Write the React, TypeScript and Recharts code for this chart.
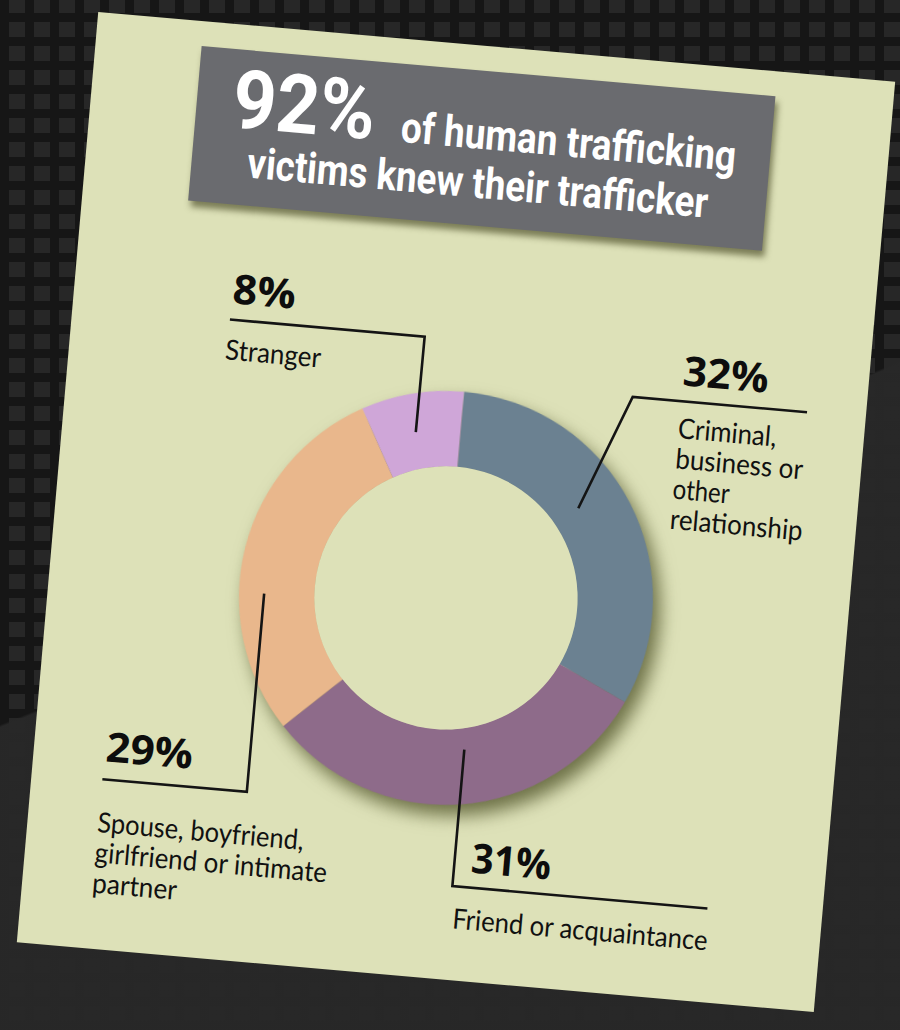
import React from 'react';
import { PieChart, Pie, Cell } from 'recharts';

// slices, clockwise from 12 o'clock
const categories = ['Criminal, business or other relationship', 'Friend or acquaintance', 'Spouse, boyfriend, girlfriend or intimate partner', 'Stranger'];
const shares = [32, 31, 29, 8];
const sliceColors = ['#6b8191', '#8e6b8a', '#e9b78c', '#cfa6d8'];

const labelLines = [
  ['Criminal,', 'business or', 'other', 'relationship'],
  ['Friend or acquaintance'],
  ['Spouse, boyfriend,', 'girlfriend or intimate', 'partner'],
  ['Stranger'],
];

const headlineRest = ['of human trafficking', 'victims knew their trafficker'];

const data = categories.map((name, i) => ({ name, value: shares[i] }));
const knewShare = shares.slice(0, 3).reduce((a, b) => a + b, 0);
const hole = [{ name: 'hole', value: 1 }];

// paper is drawn flat, then tilted like the photo
const PAPER_W = 800;
const PAPER_H = 934;
const PAPER_BG = '#dde1b8';
const LINE_H = 30.4;
const CX = 397.5;
const CY = 553.5;

const layout = [
  { pct: [614, 321, 86], text: [614, 374], widths: [99, 128, 57, 133], leader: '741,337 566,337 521.5,452.6' },
  { pct: [445.5, 825, 80], text: [432, 882], widths: [256], leader: '685,840 429,840 429,703' },
  { pct: [72, 746, 87], text: [70, 817], widths: [207, 233, 85], leader: '71,764 216,764 216,565' },
  { pct: [158.5, 278.6, 63], text: [156, 335], widths: [96], leader: '158,295 353.5,295 353,391' },
];

const bg =
  'repeating-linear-gradient(90deg, #161616 0 9px, transparent 9px 25px), ' +
  'repeating-linear-gradient(0deg, #161616 0 9px, transparent 9px 24px), #272727';

export default function App() {
  return (
    <div style={{ position: 'fixed', left: 0, top: 0, width: 900, height: 1030, overflow: 'hidden', background: bg }}>
      <div
        style={{
          position: 'absolute',
          inset: 0,
          background: 'linear-gradient(158deg, rgba(22,22,22,0) 52%, rgba(40,40,40,0.96) 52.2%)',
        }}
      />
      <div
        style={{
          position: 'absolute',
          left: 56,
          top: 45,
          width: PAPER_W,
          height: PAPER_H,
          background: PAPER_BG,
          transform: 'rotate(5deg)',
          transformOrigin: 'center',
        }}
      >
        <div
          style={{
            position: 'absolute',
            left: 105.5,
            top: 25,
            width: 576.5,
            height: 155,
            background: '#6a6b6f',
            boxShadow: '3px 6px 6px rgba(70,72,35,0.65)',
          }}
        />
        <div style={{ position: 'absolute', left: 0, top: 0, filter: 'drop-shadow(8px 10px 9px rgba(72,76,34,0.75))' }}>
          <PieChart width={PAPER_W} height={PAPER_H} margin={{ top: 0, right: 0, bottom: 0, left: 0 }}>
            <Pie
              data={data}
              dataKey="value"
              nameKey="name"
              cx={CX}
              cy={CY}
              innerRadius={131}
              outerRadius={207}
              startAngle={90}
              endAngle={-270}
              stroke="none"
              isAnimationActive={false}
            >
              {data.map((d, i) => (
                <Cell key={d.name} fill={sliceColors[i]} />
              ))}
            </Pie>
          </PieChart>
        </div>
        {/* plain centre so the ring's shadow does not fall into the hole */}
        <div style={{ position: 'absolute', left: 0, top: 0 }}>
          <PieChart width={PAPER_W} height={PAPER_H} margin={{ top: 0, right: 0, bottom: 0, left: 0 }}>
            <Pie
              data={hole}
              dataKey="value"
              cx={CX}
              cy={CY}
              innerRadius={0}
              outerRadius={131.6}
              fill={PAPER_BG}
              stroke="none"
              isAnimationActive={false}
            />
          </PieChart>
        </div>
        <svg width={PAPER_W} height={PAPER_H} style={{ position: 'absolute', left: 0, top: 0, overflow: 'visible' }}>
          <g fill="#fff" fontFamily="Roboto, 'Open Sans', sans-serif" fontWeight={700}>
            <text x={142} y={103} fontSize={82} textLength={143} lengthAdjust="spacingAndGlyphs">
              {knewShare}%
            </text>
            <text x={312} y={103} fontSize={43} textLength={336} lengthAdjust="spacingAndGlyphs">
              {headlineRest[0]}
            </text>
            <text x={162} y={152} fontSize={43} textLength={462} lengthAdjust="spacingAndGlyphs">
              {headlineRest[1]}
            </text>
          </g>
          {layout.map((l, i) => (
            <g key={categories[i]}>
              <polyline points={l.leader} fill="none" stroke="#141414" strokeWidth={2.6} />
              <text
                x={l.pct[0]}
                y={l.pct[1]}
                fontSize={41}
                fontWeight={700}
                fontFamily="'Open Sans', sans-serif"
                fill="#0d0d0d"
                textLength={l.pct[2]}
                lengthAdjust="spacingAndGlyphs"
              >
                {shares[i]}%
              </text>
              {labelLines[i].map((line, j) => (
                <text
                  key={line}
                  x={l.text[0]}
                  y={l.text[1] + j * LINE_H}
                  fontSize={28}
                  fontFamily="Lato, 'Noto Sans', sans-serif"
                  fill="#111"
                  textLength={l.widths[j]}
                  lengthAdjust="spacingAndGlyphs"
                >
                  {line}
                </text>
              ))}
            </g>
          ))}
        </svg>
      </div>
    </div>
  );
}
